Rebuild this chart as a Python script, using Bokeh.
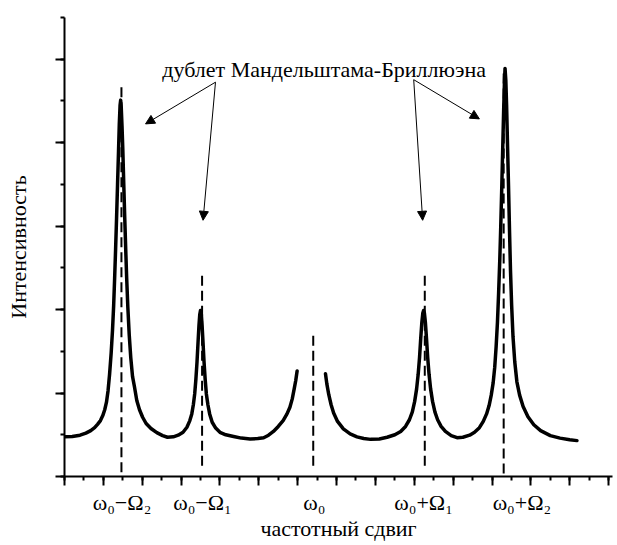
from bokeh.plotting import figure
from bokeh.models import (Label, Arrow, NormalHead, SingleIntervalTicker, FixedTicker,
                          Range1d, LinearAxis)
from bokeh.embed import file_html
from bokeh.resources import INLINE

# ---- data ----
# spectrum, left of the Rayleigh line
shift_left = [0.0, 0.4, 0.8, 1.1, 1.35, 1.55, 1.7, 1.85, 1.97, 2.07, 2.16, 2.24, 2.32, 2.4,
              2.47, 2.53, 2.58, 2.63, 2.68, 2.73, 2.78, 2.82, 2.86, 2.89, 2.92, 2.96, 3.0,
              3.05, 3.1, 3.15, 3.2, 3.26, 3.33, 3.41, 3.5, 3.6, 3.72, 3.86, 4.02, 4.2, 4.45,
              4.75, 5.05, 5.3, 5.6, 5.85, 6.1, 6.3, 6.45, 6.55, 6.63, 6.7, 6.76, 6.82, 6.87,
              6.92, 6.96, 7.0, 7.04, 7.08, 7.13, 7.18, 7.24, 7.3, 7.38, 7.47, 7.6, 7.78, 8.0,
              8.3, 8.7, 9.1, 9.55, 9.95, 10.25, 10.5, 10.75, 11.0, 11.25, 11.45, 11.6, 11.72,
              11.82, 11.9, 11.97]
intensity_left = [0.95, 0.96, 0.99, 1.04, 1.1, 1.17, 1.25, 1.34, 1.46, 1.6, 1.78, 2.05, 2.45, 2.95,
                  3.5, 4.1, 4.75, 5.45, 6.2, 7.0, 7.8, 8.45, 8.9, 9.02, 8.85, 8.4, 7.85,
                  7.0, 6.2, 5.45, 4.75, 4.05, 3.4, 2.85, 2.4, 2.15, 1.82, 1.6, 1.42, 1.27, 1.15,
                  1.05, 0.98, 0.94, 0.95, 0.99, 1.06, 1.18, 1.34, 1.5, 1.72, 1.98, 2.32, 2.75, 3.2,
                  3.62, 3.88, 3.98, 3.9, 3.62, 3.2, 2.75, 2.32, 1.98, 1.72, 1.5, 1.3, 1.16, 1.06,
                  1.0, 0.96, 0.92, 0.9, 0.91, 0.93, 0.99, 1.08, 1.2, 1.34, 1.5, 1.66, 1.86,
                  2.1, 2.3, 2.53]
# spectrum, right of the Rayleigh line
shift_right = [13.43, 13.5, 13.6, 13.72, 13.85, 14.05, 14.35, 14.7, 15.05, 15.4, 15.75, 16.2,
               16.6, 17.0, 17.3, 17.55, 17.75, 17.9, 18.02, 18.12, 18.2, 18.27, 18.33, 18.39,
               18.44, 18.48, 18.52, 18.57, 18.63, 18.69, 18.76, 18.84, 18.94, 19.06, 19.2,
               19.38, 19.6, 19.9, 20.2, 20.5, 20.85, 21.1, 21.35, 21.55, 21.72, 21.85, 21.96,
               22.06, 22.14, 22.21, 22.28, 22.34, 22.4, 22.45, 22.5, 22.55, 22.6, 22.64, 22.67,
               22.71, 22.75, 22.8, 22.85, 22.9, 22.95, 23.01, 23.08, 23.17, 23.28, 23.42, 23.6,
               23.85, 24.15, 24.5, 25.0, 25.5, 26.0, 26.37]
intensity_right = [2.46, 2.22, 1.96, 1.72, 1.52, 1.32, 1.14, 1.02, 0.95, 0.91, 0.89, 0.9,
                   0.94, 1.0, 1.08, 1.2, 1.36, 1.55, 1.8, 2.1, 2.45, 2.85, 3.3, 3.7,
                   3.92, 3.98, 3.92, 3.7, 3.3, 2.85, 2.45, 2.1, 1.8, 1.55, 1.36,
                   1.2, 1.08, 0.98, 0.93, 0.94, 0.99, 1.06, 1.17, 1.32, 1.5, 1.7, 1.95,
                   2.25, 2.62, 3.1, 3.7, 4.4, 5.2, 6.0, 6.9, 7.85, 8.8, 9.45, 9.78,
                   9.5, 8.9, 7.9, 6.95, 5.9, 4.95, 4.1, 3.35, 2.75, 2.27, 1.95, 1.68,
                   1.43, 1.24, 1.1, 0.98, 0.92, 0.88, 0.86]

# dashed marker lines
line_pos = [2.93, 7.08, 12.8, 18.54, 22.6]
line_top = [9.38, 4.88, 3.4, 4.86, 9.75]
line_bottom = [0.1, 0.26, 0.26, 0.26, 0.07]

# frequency labels under the axis
freq_labels = ["ω₀−Ω₂", "ω₀−Ω₁", "ω₀", "ω₀+Ω₁", "ω₀+Ω₂"]
freq_label_pos = [2.96, 7.1, 12.86, 18.48, 23.54]

title_text = "дублет Мандельштама-Бриллюэна"
x_title = "частотный сдвиг"
y_title = "Интенсивность"

# arrows: (start x, start y, end x, end y)
arrow_x0 = [7.77, 7.77, 17.97, 17.97]
arrow_y0 = [9.45, 9.45, 9.51, 9.51]
arrow_x1 = [4.17, 7.13, 21.35, 18.43]
arrow_y1 = [8.45, 6.14, 8.57, 6.14]

FONT = "Liberation Serif"
FS = "22px"

p = figure(width=617, height=545, x_range=Range1d(0, 28.2), y_range=Range1d(0, 11),
           output_backend="svg", toolbar_location=None,
           min_border_left=64, min_border_right=5, min_border_top=17, min_border_bottom=69)
p.xgrid.visible = False
p.ygrid.visible = False
p.outline_line_color = None
p.background_fill_color = "white"
p.border_fill_color = "white"

for ax in (p.xaxis[0], p.yaxis[0]):
    ax.ticker = SingleIntervalTicker(interval=2, num_minor_ticks=2)
    ax.axis_line_width = 2
    ax.axis_line_color = "black"
    ax.major_tick_line_width = 2
    ax.minor_tick_line_width = 2
    ax.major_tick_line_color = "black"
    ax.minor_tick_line_color = "black"
    ax.major_tick_in = 0
    ax.major_tick_out = 9
    ax.minor_tick_in = 0
    ax.minor_tick_out = 4
    ax.major_label_standoff = 0
    ax.major_label_text_font_size = "0px"
    ax.major_label_text_color = None

# y title
p.yaxis[0].axis_label = y_title
p.yaxis[0].axis_label_text_font = FONT
p.yaxis[0].axis_label_text_font_size = FS
p.yaxis[0].axis_label_text_font_style = "normal"
p.yaxis[0].axis_label_text_color = "black"
p.yaxis[0].axis_label_standoff = 25

# label axis below: frequency names and x title
lab_axis = LinearAxis(ticker=FixedTicker(ticks=freq_label_pos, minor_ticks=[]),
                      major_label_overrides={x: t for x, t in zip(freq_label_pos, freq_labels)},
                      axis_line_color=None, major_tick_line_color=None, minor_tick_line_color=None,
                      major_tick_in=0, major_tick_out=0, minor_tick_in=0, minor_tick_out=0,
                      major_label_standoff=4,
                      major_label_text_font=FONT, major_label_text_font_size=FS,
                      major_label_text_color="black",
                      axis_label=x_title, axis_label_standoff=-2,
                      axis_label_text_font=FONT, axis_label_text_font_size=FS,
                      axis_label_text_font_style="normal", axis_label_text_color="black")
p.add_layout(lab_axis, "below")

# spectrum
p.line(shift_left, intensity_left, line_width=3.5, color="black", line_join="round", line_cap="round")
p.line(shift_right, intensity_right, line_width=3.5, color="black", line_join="round", line_cap="round")

# dashed lines
p.segment(x0=line_pos, y0=line_bottom, x1=line_pos, y1=line_top,
          line_width=2, line_color="black", line_dash="10 5")

# arrows
for xs, ys, xe, ye in zip(arrow_x0, arrow_y0, arrow_x1, arrow_y1):
    p.add_layout(Arrow(end=NormalHead(size=9, fill_color="black", line_color="black", line_width=1),
                       x_start=xs, y_start=ys, x_end=xe, y_end=ye,
                       line_width=1, line_color="black"))

# annotation text
p.add_layout(Label(x=13.36, y=9.75, text=title_text, text_align="center",
                   text_baseline="alphabetic", text_font=FONT, text_font_size=FS, text_color="black"))

open("out.html", "w").write(file_html(p, INLINE))
